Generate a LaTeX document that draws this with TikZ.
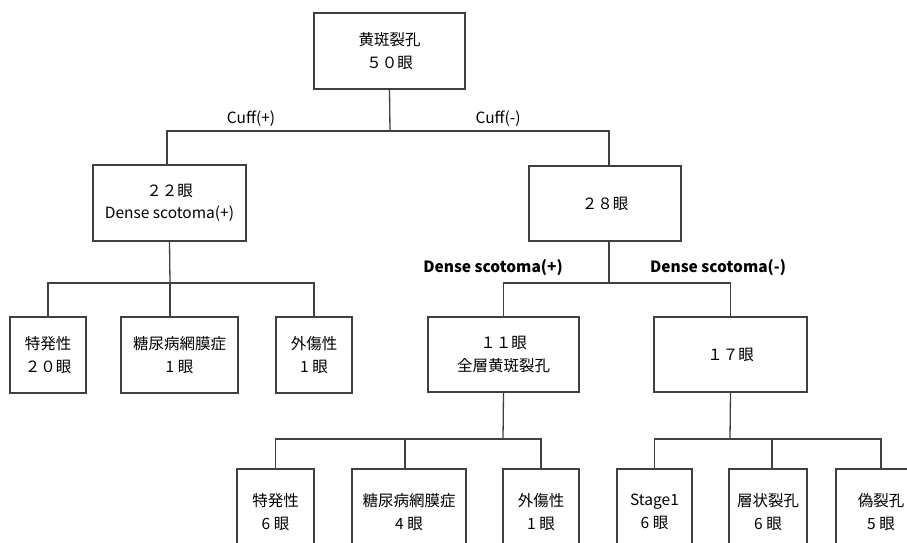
\documentclass[tikz,border=0pt]{standalone}
\usepackage{fontspec}
\setmainfont{Noto Sans CJK JP}
\begin{document}
\begin{tikzpicture}[x=1pt,y=-1pt,
  box/.style={draw=black!75, line width=1.3pt, fill=white, inner sep=0pt, align=center, font=\fontsize{15.5}{22.5}\selectfont},
  link/.style={draw=black!75, line width=1.3pt},
  lbl/.style={font=\fontsize{15.5}{18}\selectfont, inner sep=0pt},
  blbl/.style={font=\fontsize{15.5}{18}\selectfont\bfseries, inner sep=0pt}]
\useasboundingbox (0,0) rectangle (907,542);
\clip (0,0) rectangle (907,542);
% level 0
\node[box, minimum width=151, minimum height=76] (top) at (389.5,51) {黄斑裂孔\\５０眼};
% level 1
\node[box, minimum width=153, minimum height=76] (b22) at (169.5,203) {２２眼\\Dense scotoma(+)};
\node[box, minimum width=152, minimum height=75] (b28) at (605,203.5) {２８眼};
% level 2 left
\node[box, minimum width=76, minimum height=76] (l1) at (48,355) {特発性\\２０眼};
\node[box, minimum width=117, minimum height=76] (l2) at (179.5,355) {糖尿病網膜症\\1 眼};
\node[box, minimum width=76, minimum height=76] (l3) at (314,355) {外傷性\\1 眼};
% level 2 right
\node[box, minimum width=151, minimum height=75] (b11) at (503.5,354.5) {１１眼\\全層黄斑裂孔};
\node[box, minimum width=153, minimum height=75] (b17) at (730.5,354.5) {１７眼};
% level 3
\node[box, minimum width=77, minimum height=86] (m1) at (275.5,512) {特発性\\6 眼};
\node[box, minimum width=114, minimum height=86] (m2) at (409,512) {糖尿病網膜症\\4 眼};
\node[box, minimum width=76, minimum height=86] (m3) at (541,512) {外傷性\\1 眼};
\node[box, minimum width=75, minimum height=86] (r1) at (654.5,512) {Stage1\\6 眼};
\node[box, minimum width=78, minimum height=86] (r2) at (768,512) {層状裂孔\\6 眼};
\node[box, minimum width=90, minimum height=86] (r3) at (881,512) {偽裂孔\\5 眼};
% labels
\node[lbl] (cp) at (251,119) {Cuff(+)};
\node[lbl] (cm) at (498,119) {Cuff(-)};
\node[blbl] (dp) at (493,268) {Dense scotoma(+)};
\node[blbl] (dm) at (718,268) {Dense scotoma(-)};
% junctions
\coordinate (j0) at (390,131);
\coordinate (j1) at (170,283);
\coordinate (j2) at (609,283);
\coordinate (j3) at (503,439);
\coordinate (j4) at (730,439);
% connectors
\draw[link] (top.south) -- (j0);
\draw[link] ([xshift=-2.5pt]b22.north) -- ([xshift=-2.5pt]b22.north |- j0) -- ([xshift=4pt]b28.north |- j0) -- ([xshift=4pt]b28.north);
\draw[link] (b22.south) -- (j1);
\draw[link] (l1.north) -- (l1.north |- j1) -- (l3.north |- j1) -- (l3.north);
\draw[link] (j1) -- (j1 |- l2.north);
\draw[link] ([xshift=4pt]b28.south) -- (j2);
\draw[link] (b11.north) -- (b11.north |- j2) -- (b17.north |- j2) -- (b17.north);
\draw[link] (b11.south) -- (j3);
\draw[link] (m1.north) -- (m1.north |- j3) -- (m3.north |- j3) -- (m3.north);
\draw[link] ([xshift=-4pt]m2.north) -- ([xshift=-4pt]m2.north |- j3);
\draw[link] (b17.south) -- (j4);
\draw[link] (r1.north) -- (r1.north |- j4) -- (r3.north |- j4) -- (r3.north);
\draw[link] ([xshift=4pt]r2.north) -- ([xshift=4pt]r2.north |- j4);
\end{tikzpicture}
\end{document}
